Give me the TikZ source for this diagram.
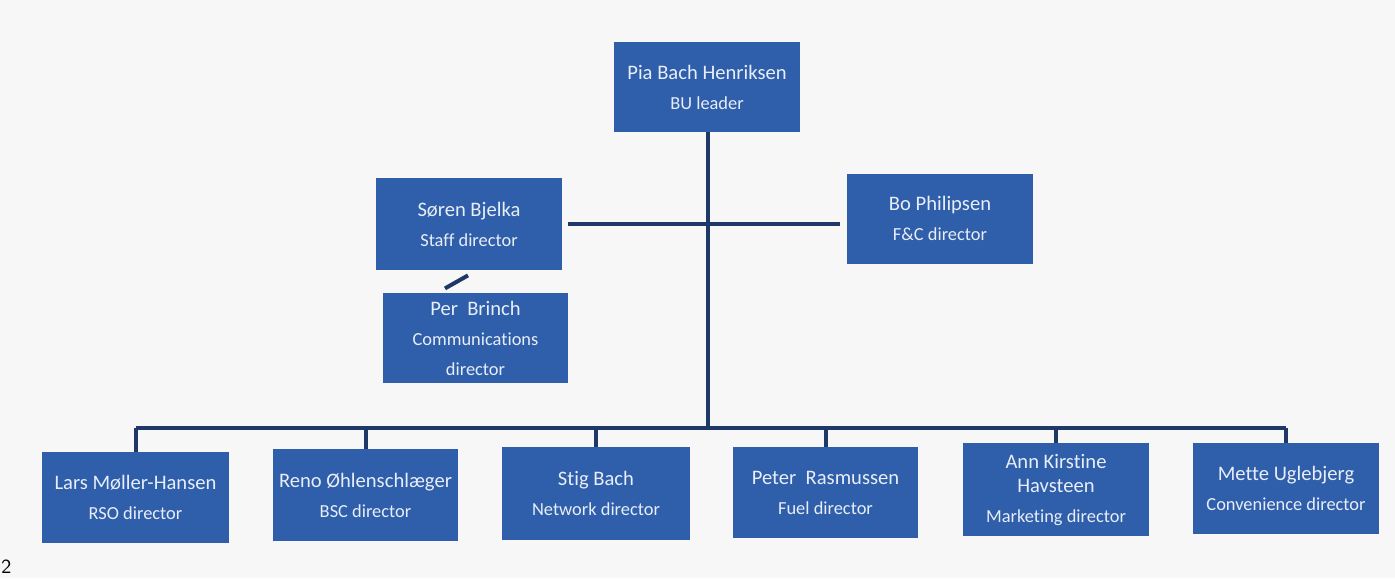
\documentclass[tikz,border=0pt]{standalone}
\usepackage{fontspec}
\setmainfont{Carlito}[Ligatures=NoCommon]
\definecolor{boxblue}{RGB}{47,94,170}
\definecolor{linenavy}{RGB}{30,56,104}
\definecolor{paper}{RGB}{247,247,247}
\definecolor{boxtext}{RGB}{232,238,248}
\newcommand{\rolefnt}{\fontsize{9.2}{15}\selectfont}
\tikzset{
  person/.style={fill=boxblue, draw=none, text=boxtext, align=center, inner sep=0pt,
    font=\fontsize{10.3}{15}\selectfont},
  link/.style={draw=linenavy, line width=2pt},
}
\begin{document}
\begin{tikzpicture}[x=0.5pt,y=-0.5pt]
\useasboundingbox (0,0) rectangle (1395,578);
\clip (0,0) rectangle (1395,578);
\fill[paper] (0,0) rectangle (1395,578);
% boxes
\node[person, minimum width=93pt, minimum height=45pt] (pia) at (707,87) {Pia Bach Henriksen\\{\rolefnt BU leader}};
\node[person, minimum width=93pt, minimum height=46pt] (soren) at (469,224) {Søren Bjelka\\{\rolefnt Staff director}};
\node[person, minimum width=93pt, minimum height=45pt] (bo) at (940,218.5) {Bo Philipsen\\{\rolefnt F\&C director}};
\node[person, minimum width=92.5pt, minimum height=45pt] (per) at (475.5,338) {Per\ \ Brinch\\{\rolefnt Communications}\\{\rolefnt director}};
\node[person, minimum width=93.5pt, minimum height=45.5pt] (lars) at (135.5,497.5) {Lars Møller-Hansen\\{\rolefnt RSO director}};
\node[person, minimum width=92.5pt, minimum height=46pt] (reno) at (365.5,495) {Reno Øhlenschlæger\\{\rolefnt BSC director}};
\node[person, minimum width=94pt, minimum height=46.5pt] (stig) at (596,493.5) {Stig Bach\\{\rolefnt Network director}};
\node[person, minimum width=92.5pt, minimum height=45.5pt] (peter) at (825.5,492.5) {Peter\ \ Rasmussen\\{\rolefnt Fuel director}};
\node[person, minimum width=93pt, minimum height=46.5pt] (ann) at (1056,489.5) {Ann Kirstine\\[-3pt]Havsteen\\{\rolefnt Marketing director}};
\node[person, minimum width=93pt, minimum height=45.5pt] (mette) at (1286,488.5) {Mette Uglebjerg\\{\rolefnt Convenience director}};
% connectors
\coordinate (bus) at (708,428);
\coordinate (midl) at (568,224);
\coordinate (midr) at (840,224);
\draw[link] (pia.south -| bus) -- (bus);
\draw[link] (midl) -- (midr);
\draw[link] (135,428 -| lars.north) -- (1287,428 -| mette.north);
\foreach \n in {lars,reno,stig,peter,ann,mette}{
  \draw[link] (\n.north |- bus) -- (\n.north);
}
\draw[draw=linenavy, line width=2pt] ([xshift=-12pt,yshift=-9pt]soren.south) -- ([xshift=-0.5pt,yshift=-2.5pt]soren.south);
% page number
\node[anchor=north west, inner sep=0pt, font=\fontsize{10}{12}\selectfont\sffamily] (pg) at (1,560) {2};
\end{tikzpicture}
\end{document}
